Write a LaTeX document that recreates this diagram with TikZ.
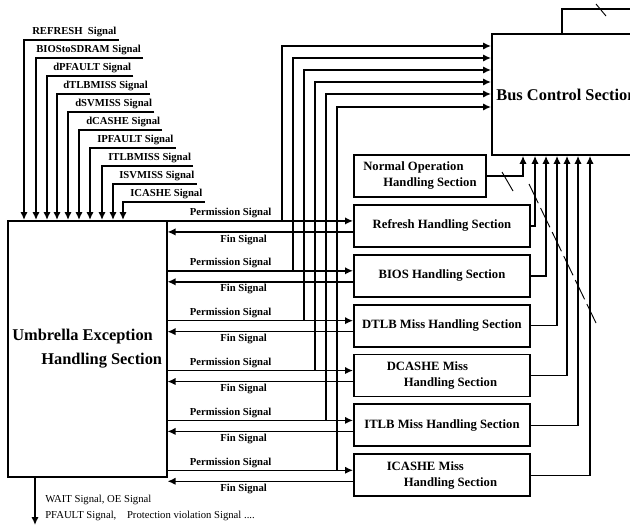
\documentclass[tikz,border=0pt]{standalone}
\usepackage{fontspec}
\setmainfont{Liberation Serif}
\usepackage{tikz}
\usetikzlibrary{arrows.meta,positioning,calc}
\tikzset{
  sectionblock/.style={
    draw,
    line width=1.4pt,
    align=center,
    inner sep=2pt,
    minimum width=132pt,
    minimum height=31.5pt,
    font=\bfseries\fontsize{9.5}{12}\selectfont
  },
  umbrellablock/.style={
    draw,
    line width=1.4pt,
    align=left,
    font=\bfseries\fontsize{12.3}{18}\selectfont
  },
  signaltext/.style={
    anchor=south west,
    inner xsep=1.5pt,
    inner ysep=2pt,
    font=\bfseries\fontsize{8}{9}\selectfont
  },
  flowlabel/.style={
    inner sep=1.5pt,
    font=\bfseries\fontsize{8}{9}\selectfont
  },
  signalline/.style={line width=1.1pt},
  signalarrow/.style={-{Latex[length=6pt,width=5.5pt]}, line width=1.1pt},
  tickmark/.style={line width=0.7pt}
}

\begin{document}
\begin{tikzpicture}[x=0.75pt,y=-0.75pt,node distance=4.5pt]
% pixel grid of the drawing, y grows downwards
\useasboundingbox (0,0) rectangle (630,527);

\node[umbrellablock, minimum width=115.5pt, minimum height=192pt, anchor=north west] (umbrella) at (7,220) {Umbrella Exception\\\hspace*{21.75pt}Handling Section};
\node[umbrellablock, minimum width=111.75pt, minimum height=90.75pt, anchor=north west, align=center] (bus) at (491,33) {Bus Control Section};
\node[sectionblock, minimum width=99pt, anchor=north west, align=left] (normalop) at (353,154) {Normal Operation\\\hspace*{15pt}Handling Section};

\node[sectionblock, anchor=north west] (refresh) at (353,204) {Refresh Handling Section};
\node[sectionblock, below=of refresh] (bios) {BIOS Handling Section};
\node[sectionblock, below=of bios] (dtlb) {DTLB Miss Handling Section};
\node[sectionblock, below=of dtlb, align=left] (dcashe) {DCASHE Miss\\\hspace*{12.75pt}Handling Section};
\node[sectionblock, below=of dcashe] (itlb) {ITLB Miss Handling Section};
\node[sectionblock, below=of itlb, align=left] (icashe) {ICASHE Miss\\\hspace*{12.75pt}Handling Section};

% incoming exception signals
\node[signaltext] (sigrefresh) at (30,40) {REFRESH\ \ Signal};
\node[signaltext] (sigbios) at (34,58) {BIOStoSDRAM Signal};
\node[signaltext] (sigdpfault) at (51,76) {dPFAULT Signal};
\node[signaltext] (sigdtlb) at (61,94) {dTLBMISS Signal};
\node[signaltext] (sigdsv) at (73,112) {dSVMISS Signal};
\node[signaltext] (sigdcashe) at (84,130) {dCASHE Signal};
\node[signaltext] (sigipfault) at (95,148) {IPFAULT Signal};
\node[signaltext] (sigitlb) at (106,166) {ITLBMISS Signal};
\node[signaltext] (sigisv) at (117,184) {ISVMISS Signal};
\node[signaltext] (sigicashe) at (128,202) {ICASHE Signal};

\draw[signalarrow] (sigrefresh.south east) -| (24,0 |- umbrella.north);
\draw[signalarrow] (sigbios.south east) -| (36,0 |- umbrella.north);
\draw[signalarrow] (sigdpfault.south east) -| (47,0 |- umbrella.north);
\draw[signalarrow] (sigdtlb.south east) -| (57,0 |- umbrella.north);
\draw[signalarrow] (sigdsv.south east) -| (68,0 |- umbrella.north);
\draw[signalarrow] (sigdcashe.south east) -| (79,0 |- umbrella.north);
\draw[signalarrow] (sigipfault.south east) -| (90,0 |- umbrella.north);
\draw[signalarrow] (sigitlb.south east) -| (102,0 |- umbrella.north);
\draw[signalarrow] (sigisv.south east) -| (113,0 |- umbrella.north);
\draw[signalarrow] (sigicashe.south east) -| (123,0 |- umbrella.north);

% permission / fin handshakes
\coordinate (prefresh) at ($(refresh.west)+(0,-5)$);
\coordinate (frefresh) at ($(refresh.west)+(0,6)$);
\coordinate (pbios) at ($(bios.west)+(0,-5)$);
\coordinate (fbios) at ($(bios.west)+(0,6)$);
\coordinate (pdtlb) at ($(dtlb.west)+(0,-5)$);
\coordinate (fdtlb) at ($(dtlb.west)+(0,6)$);
\coordinate (pdcashe) at ($(dcashe.west)+(0,-5)$);
\coordinate (fdcashe) at ($(dcashe.west)+(0,6)$);
\coordinate (pitlb) at ($(itlb.west)+(0,-5)$);
\coordinate (fitlb) at ($(itlb.west)+(0,6)$);
\coordinate (picashe) at ($(icashe.west)+(0,-5)$);
\coordinate (ficashe) at ($(icashe.west)+(0,6)$);

\draw[signalarrow] (umbrella.east |- prefresh) -- node[flowlabel, above, pos=0.34] {Permission Signal} (prefresh);
\draw[signalarrow] (frefresh) -- node[flowlabel, below, pos=0.59] {Fin Signal} (umbrella.east |- frefresh);
\draw[signalarrow] (umbrella.east |- pbios) -- node[flowlabel, above, pos=0.34] {Permission Signal} (pbios);
\draw[signalarrow] (fbios) -- node[flowlabel, below, pos=0.59] {Fin Signal} (umbrella.east |- fbios);
\draw[signalarrow] (umbrella.east |- pdtlb) -- node[flowlabel, above, pos=0.34] {Permission Signal} (pdtlb);
\draw[signalarrow] (fdtlb) -- node[flowlabel, below, pos=0.59] {Fin Signal} (umbrella.east |- fdtlb);
\draw[signalarrow] (umbrella.east |- pdcashe) -- node[flowlabel, above, pos=0.34] {Permission Signal} (pdcashe);
\draw[signalarrow] (fdcashe) -- node[flowlabel, below, pos=0.59] {Fin Signal} (umbrella.east |- fdcashe);
\draw[signalarrow] (umbrella.east |- pitlb) -- node[flowlabel, above, pos=0.34] {Permission Signal} (pitlb);
\draw[signalarrow] (fitlb) -- node[flowlabel, below, pos=0.59] {Fin Signal} (umbrella.east |- fitlb);
\draw[signalarrow] (umbrella.east |- picashe) -- node[flowlabel, above, pos=0.34] {Permission Signal} (picashe);
\draw[signalarrow] (ficashe) -- node[flowlabel, below, pos=0.59] {Fin Signal} (umbrella.east |- ficashe);

% permission taps into the bus control
\draw[signalarrow] (282,0 |- prefresh) |- ($(bus.north west)+(0,13)$);
\draw[signalarrow] (293,0 |- pbios) |- ($(bus.north west)+(0,25)$);
\draw[signalarrow] (304,0 |- pdtlb) |- ($(bus.north west)+(0,37)$);
\draw[signalarrow] (315,0 |- pdcashe) |- ($(bus.north west)+(0,49)$);
\draw[signalarrow] (326,0 |- pitlb) |- ($(bus.north west)+(0,61)$);
\draw[signalarrow] (337,0 |- picashe) |- ($(bus.north west)+(0,74)$);

% bus requests of the sections
\draw[signalarrow] (normalop.east) -| (523,0 |- bus.south);
\draw[signalarrow] (refresh.east) -| (535,0 |- bus.south);
\draw[signalarrow] (bios.east) -| (546,0 |- bus.south);
\draw[signalarrow] (dtlb.east) -| (557,0 |- bus.south);
\draw[signalarrow] (dcashe.east) -| (567,0 |- bus.south);
\draw[signalarrow] (itlb.east) -| (578,0 |- bus.south);
\draw[signalarrow] (icashe.east) -| (590,0 |- bus.south);

\coordinate (busout) at (650,9);
\draw[signalline] (562,0 |- bus.north) |- (busout);

\draw[tickmark] (596,4) -- (606,16);
\draw[tickmark] (502,172) -- (513,191);
\draw[tickmark, dash pattern=on 16pt off 4pt] (529,184) -- (596,323);

% outgoing signals
\coordinate (exitend) at (35,525);
\draw[signalarrow] (umbrella.south -| exitend) -- (exitend);
\node[anchor=west, align=left, inner sep=0pt, font=\fontsize{8}{12}\selectfont] (exitlabel) at (45,508) {WAIT Signal,\ OE Signal\\PFAULT Signal,\quad Protection violation Signal ....};
\end{tikzpicture}
\end{document}
